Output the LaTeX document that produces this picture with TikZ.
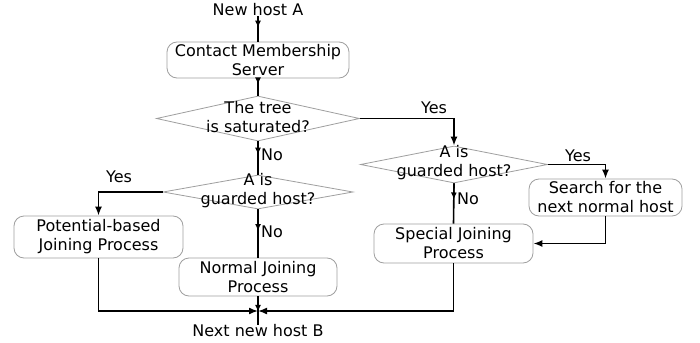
\documentclass[tikz,border=0pt]{standalone}
\usepackage{fontspec}
\setmainfont{DejaVu Sans}
\usetikzlibrary{shapes.geometric,arrows.meta,calc}
\begin{document}
\begin{tikzpicture}[x=1pt,y=-1pt,
  every node/.style={font=\fontsize{16}{19}\selectfont, inner sep=0pt, align=center},
  box/.style={draw=gray!75, line width=0.8pt, rounded corners=10pt},
  dia/.style={draw=gray!75, line width=0.8pt, shape=diamond},
  conn/.style={draw=black, line width=1.6pt},
  arr/.style={conn, -{Latex[length=9pt,width=7pt]}},
  harr/.style={conn, -{Latex[length=7pt,width=6pt]}}
]
\useasboundingbox (0,0) rectangle (700,342);
\fill[white] (0,0) rectangle (700,342);

\node (A) at (258,10) {New host A};
\node[box, minimum width=182pt, minimum height=36pt] (contact) at (258,60) {Contact Membership\\Server};
\node[dia, minimum width=203pt, minimum height=45pt] (d1) at (258,118.5) {};
\node at (258,117) {The tree\\is saturated?};
\node[dia, minimum width=190pt, minimum height=34pt] (d3) at (258,192) {};
\node at (258,191) {A is\\guarded host?};
\node[dia, minimum width=187pt, minimum height=37pt] (d2) at (454,164.5) {};
\node at (454,163) {A is\\guarded host?};
\node[box, minimum width=153pt, minimum height=37pt] (search) at (605.5,197.5) {Search for the\\next normal host};
\node[box, minimum width=159pt, minimum height=39pt] (special) at (453.5,243.5) {Special Joining\\Process};
\node[box, minimum width=169pt, minimum height=42pt] (pot) at (98.5,237) {Potential-based\\Joining Process};
\node[box, minimum width=158pt, minimum height=38pt] (normal) at (258,277) {Normal Joining\\Process};
\node (B) at (258,331) {Next new host B};
\coordinate (join) at (258,311);

% vertical flow: full line plus an arrowhead part way down
\draw[conn] (A.south) -- (contact.north);
\draw[harr] (A.south) -- ($(A.south)!0.45!(contact.north)$);
\draw[conn] (contact.south) -- (d1.north);
\draw[harr] (contact.south) -- ($(contact.south)!0.35!(d1.north)$);
\draw[conn] (d1.south) -- (d3.north);
\draw[harr] (d1.south) -- ($(d1.south)!0.4!(d3.north)$);
\draw[conn] (d3.south) -- (normal.north);
\draw[harr] (d3.south) -- ($(d3.south)!0.45!(normal.north)$);
\draw[conn] (d2.south) -- (special.north);
\draw[harr] (d2.south) -- ($(d2.south)!0.4!(special.north)$);
\draw[conn] (normal.south) -- (B.north);
\draw[harr] (normal.south) -- ($(normal.south)!0.55!(B.north)$);

% yes branches
\draw[arr] (d1.east) -| (d2.north);
\draw[arr] (d2.east) -| (search.north);
\draw[arr] (search.south) |- (special.east);
\draw[arr] (d3.west) -| (pot.north);

% joins
\draw[arr] (pot.south) |- (join);
\draw[arr] (special.south) |- (join);

% labels
\node at (434,108) {Yes};
\node[anchor=west] at (261,155) {No};
\node at (119,177) {Yes};
\node[anchor=west] at (261,232) {No};
\node at (578,156) {Yes};
\node[anchor=west] at (457,199) {No};
\end{tikzpicture}
\end{document}
